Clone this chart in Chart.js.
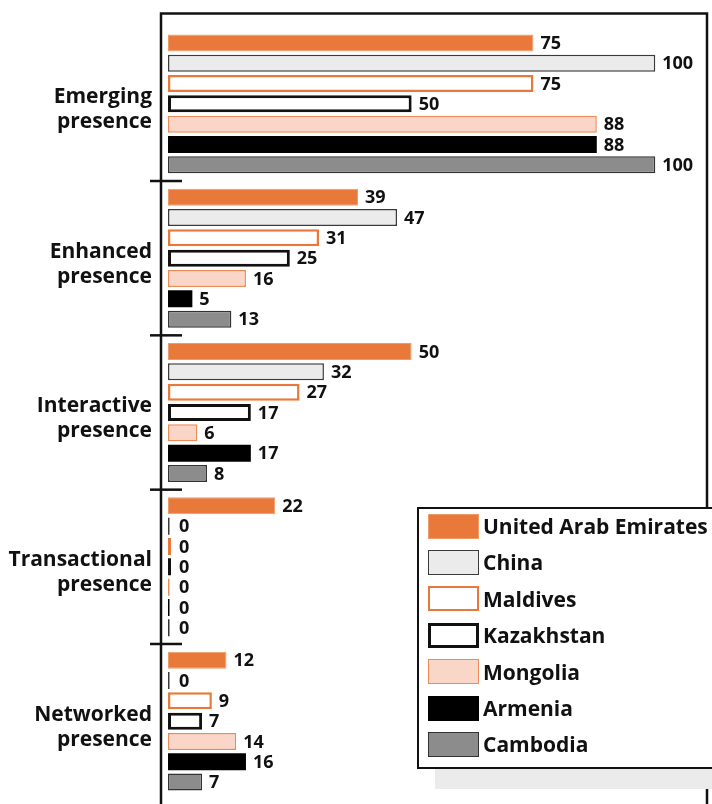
<!DOCTYPE html>
<html>
<head>
<meta charset="utf-8">
<script src="https://cdn.jsdelivr.net/npm/chart.js@4/dist/chart.umd.min.js"></script>
<style>
  body { margin: 0; background: #fff; overflow: hidden; }
  .wrap { position: relative; width: 712px; height: 804px; }
  .legend-shadow {
    position: absolute; left: 435px; top: 527px; width: 320px; height: 262px;
    background: #ebebeb;
  }
  .legend {
    position: absolute; left: 417px; top: 507px; width: 320px; height: 262px;
    box-sizing: border-box; border: 2.5px solid #111; background: #fff;
  }
  .legend-item {
    position: absolute; left: 9px; height: 25px; display: flex; align-items: center;
    font: bold 21px "Open Sans", sans-serif; color: #111; white-space: nowrap;
  }
  .swatch { width: 51px; height: 25px; box-sizing: border-box; margin-right: 4px; }
</style>
</head>
<body>
<div class="wrap">
  <canvas id="chart"></canvas>
  <div class="legend-shadow"></div>
  <div class="legend" id="legend"></div>
</div>
<script>
const categories = [
  ['Emerging', 'presence'],
  ['Enhanced', 'presence'],
  ['Interactive', 'presence'],
  ['Transactional', 'presence'],
  ['Networked', 'presence']
];

const countries = ['United Arab Emirates', 'China', 'Maldives', 'Kazakhstan', 'Mongolia', 'Armenia', 'Cambodia'];

const uaeValues = [75, 39, 50, 22, 12];
const chinaValues = [100, 47, 32, 0, 0];
const maldivesValues = [75, 31, 27, 0, 9];
const kazakhstanValues = [50, 25, 17, 0, 7];
const mongoliaValues = [88, 16, 6, 0, 14];
const armeniaValues = [88, 5, 17, 0, 16];
const cambodiaValues = [100, 13, 8, 0, 7];

const seriesValues = [uaeValues, chinaValues, maldivesValues, kazakhstanValues, mongoliaValues, armeniaValues, cambodiaValues];

// fill, border colour, border width
const fills = ['#e9793a', '#ebebeb', '#ffffff', '#ffffff', '#f9d6c8', '#000000', '#8c8c8c'];
const borders = ['#f09a66', '#3a3a3a', '#e9793a', '#111111', '#ec8b55', '#000000', '#333333'];
const borderWidths = [1, 1.5, 2.5, 3, 1.5, 0, 1.5];
const zeroWidths = [2, 1.5, 3, 3, 1.5, 1.5, 1.5];

const datasets = countries.map((name, i) => ({
  label: name,
  data: seriesValues[i],
  backgroundColor: (ctx) => ctx.raw === 0 ? borders[i] : fills[i],
  borderColor: borders[i],
  borderWidth: (ctx) => ctx.raw === 0 ? 0 : borderWidths[i],
  borderSkipped: false,
  minBarLength: zeroWidths[i],
  barPercentage: 0.836,
  categoryPercentage: 0.922
}));

// outer frame + the little cross marks between groups
const framePlugin = {
  id: 'frame',
  afterDraw(chart) {
    const { ctx, chartArea } = chart;
    const yScale = chart.scales.y;
    const left = chartArea.left - 7;
    const right = chartArea.right + 3;
    const top = 13.5;
    ctx.save();
    ctx.strokeStyle = '#111';
    ctx.lineWidth = 2.5;
    ctx.beginPath();
    ctx.moveTo(left, 810);
    ctx.lineTo(left, top);
    ctx.lineTo(right, top);
    ctx.lineTo(right, 810);
    ctx.stroke();
    for (let i = 0; i < categories.length - 1; i++) {
      const y = (yScale.getPixelForValue(i) + yScale.getPixelForValue(i + 1)) / 2;
      ctx.beginPath();
      ctx.moveTo(left - 11, y);
      ctx.lineTo(left + 21, y);
      ctx.stroke();
    }
    ctx.restore();
  }
};

const valueLabels = {
  id: 'valueLabels',
  afterDatasetsDraw(chart) {
    const { ctx, chartArea } = chart;
    ctx.save();
    ctx.font = 'bold 18px "Open Sans", sans-serif';
    ctx.fillStyle = '#111';
    ctx.textBaseline = 'middle';
    ctx.textAlign = 'left';
    chart.data.datasets.forEach((ds, i) => {
      chart.getDatasetMeta(i).data.forEach((bar, j) => {
        const x = Math.max(bar.x, chartArea.left + 4) + 7;
        ctx.fillText(ds.data[j], x, bar.y + 1);
      });
    });
    ctx.restore();
  }
};

const canvas = document.getElementById('chart');
canvas.width = 712;
canvas.height = 804;

new Chart(canvas, {
  type: 'bar',
  data: { labels: categories, datasets: datasets },
  options: {
    indexAxis: 'y',
    responsive: false,
    animation: false,
    devicePixelRatio: 1,
    layout: { padding: { top: 26.7, bottom: 5.7, right: 8, left: 0 } },
    plugins: {
      legend: { display: false },
      tooltip: { enabled: false }
    },
    scales: {
      x: { display: false, min: 0, max: 110 },
      y: {
        grid: { display: false },
        border: { display: false },
        afterFit(scale) {
          scale.width = 168;
          scale.paddingTop = 0;
          scale.paddingBottom = 0;
        },
        ticks: {
          color: '#111',
          padding: 8,
          labelOffset: 6,
          font: { family: '"Open Sans", sans-serif', weight: 'bold', size: 21, lineHeight: 1.2 }
        }
      }
    }
  },
  plugins: [framePlugin, valueLabels]
});

// legend box, built from the same arrays
const legendEl = document.getElementById('legend');
countries.forEach((name, i) => {
  const item = document.createElement('div');
  item.className = 'legend-item';
  item.style.top = (4.5 + i * 36.4) + 'px';
  const sw = document.createElement('div');
  sw.className = 'swatch';
  sw.style.background = fills[i];
  sw.style.border = Math.max(borderWidths[i], 1) + 'px solid ' + borders[i];
  item.appendChild(sw);
  item.appendChild(document.createTextNode(name));
  legendEl.appendChild(item);
});
</script>
</body>
</html>
